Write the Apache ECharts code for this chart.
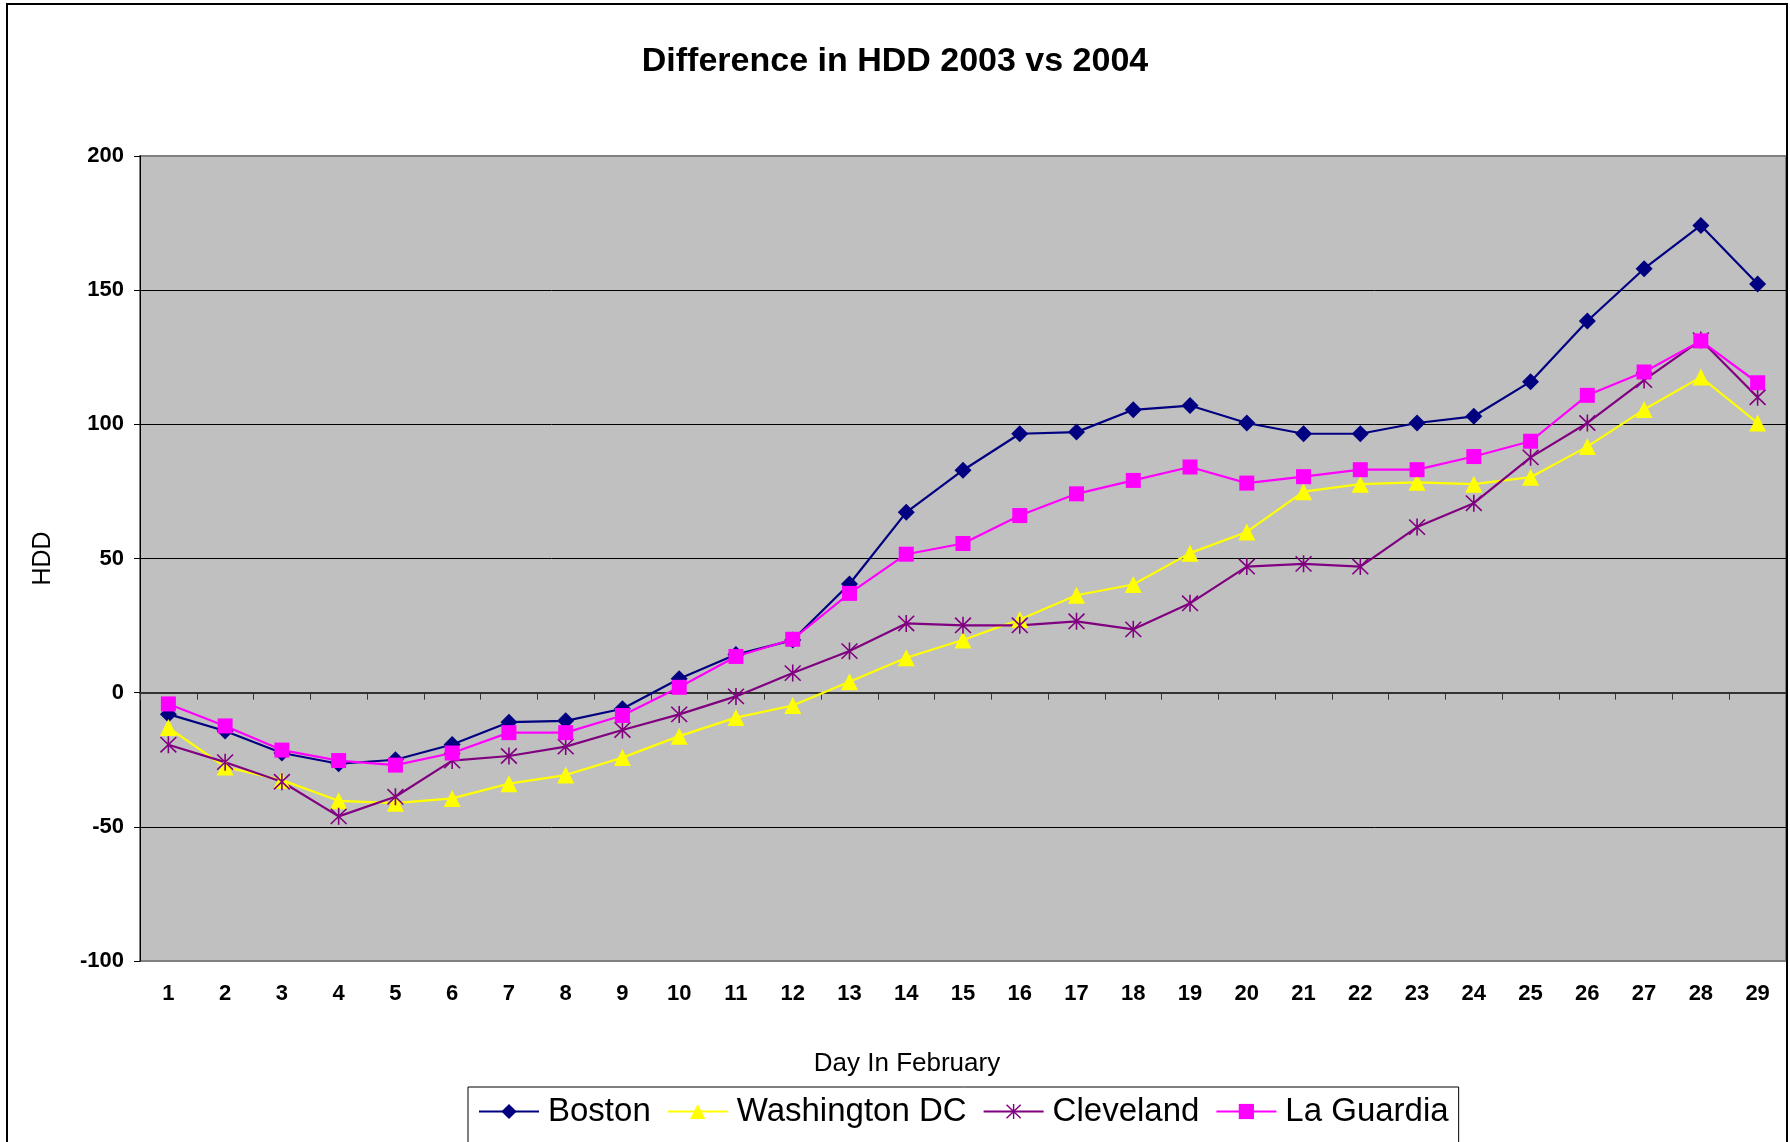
<!DOCTYPE html>
<html>
<head>
<meta charset="utf-8">
<title>Difference in HDD 2003 vs 2004</title>
<script src="https://cdn.jsdelivr.net/npm/echarts@6/dist/echarts.min.js"></script>
<style>
  html, body { margin: 0; padding: 0; background: #fff; }
  #chart { width: 1790px; height: 1142px; }
</style>
</head>
<body>
<div id="chart"></div>
<script>
// days of February (x categories)
var days = ['1','2','3','4','5','6','7','8','9','10','11','12','13','14','15',
            '16','17','18','19','20','21','22','23','24','25','26','27','28','29'];

// HDD difference 2003 vs 2004
var boston = [-8, -14.3, -22.5, -26.5, -25, -19.3, -11, -10.5, -6, 5.2, 14.2, 19.6, 40.5, 67.2, 82.9,
              96.5, 97.1, 105.4, 107, 100.5, 96.5, 96.5, 100.5, 103, 115.9, 138.5, 158, 174.1, 152.3];
var washington = [-13, -27.7, -32.6, -40.3, -41.2, -39.4, -33.9, -30.7, -24.2, -16.2, -9.3, -4.8, 4.1, 13, 19.6,
                  27.3, 36.3, 40.3, 52, 59.9, 74.9, 77.7, 78.4, 77.7, 80.3, 91.7, 105.5, 117.6, 100.5];
var cleveland = [-19.4, -25.9, -33.2, -46.1, -38.8, -25.3, -23.6, -20.1, -13.9, -8.1, -1.4, 7.3, 15.5, 25.8, 25.1,
                 25.1, 26.6, 23.6, 33.3, 47, 48, 47, 61.7, 70.6, 87.7, 100.5, 116.5, 131.4, 110.1];
var laGuardia = [-4.2, -12.4, -21.4, -25.3, -27, -22.5, -14.9, -14.9, -8.5, 2, 13.5, 19.9, 37, 51.6, 55.6,
                 66, 74.1, 79.1, 84.1, 78.1, 80.5, 83.1, 83.1, 88, 93.7, 110.8, 119.5, 131.1, 115.5];

var seriesNames = ['Boston', 'Washington DC', 'Cleveland', 'La Guardia'];
var yTicks = { min: -100, max: 200, interval: 50 };

var font = "'Liberation Sans', Arial, sans-serif";

// asterisk marker (X with a vertical bar), all parts same winding
var asterisk = 'path://M9.1,0L10.9,0L10.9,20L9.1,20Z' +
  'M1.64,0.36L19.64,18.36L18.36,19.64L0.36,1.64Z' +
  'M19.64,1.64L1.64,19.64L0.36,18.36L18.36,0.36Z';

function makeSeries(name, data, color, symbol, size) {
  return {
    name: name,
    type: 'line',
    data: data,
    symbol: symbol,
    symbolSize: size,
    showAllSymbol: true,
    lineStyle: { color: color, width: 2.2 },
    itemStyle: { color: color, borderWidth: 0 }
  };
}

var chart = echarts.init(document.getElementById('chart'));
var option = {
  animation: false,
  backgroundColor: '#fff',
  textStyle: { fontFamily: font },
  title: {
    text: 'Difference in HDD 2003 vs 2004',
    left: 'center',
    top: 40,
    textStyle: { fontFamily: font, fontSize: 34, fontWeight: 'bold', color: '#000' }
  },
  graphic: [{
    type: 'rect',
    silent: true,
    z: 100,
    shape: { x: 7, y: 4, width: 1780, height: 1200 },
    style: { fill: 'none', stroke: '#000', lineWidth: 2 }
  }],
  legend: {
    data: seriesNames,
    left: 468,
    top: 1087,
    orient: 'horizontal',
    itemWidth: 60,
    itemHeight: 19,
    itemGap: 16,
    padding: [8, 10, 30, 10],
    borderColor: '#000',
    borderWidth: 1,
    textStyle: { fontFamily: font, fontSize: 33, color: '#000', padding: [0, 0, 0, 4] }
  },
  grid: {
    left: 140,
    right: 4,
    top: 156,
    bottom: 181,
    show: true,
    backgroundColor: '#C0C0C0',
    borderColor: '#808080',
    borderWidth: 2,
    outerBoundsMode: 'none'
  },
  xAxis: [{
    type: 'category',
    data: days,
    position: 'bottom',
    boundaryGap: true,
    axisLine: { show: false, onZero: false },
    axisTick: { show: false },
    axisLabel: { margin: 22, fontFamily: font, fontSize: 22, fontWeight: 'bold', color: '#000' },
    name: 'Day In February',
    nameLocation: 'middle',
    nameGap: 90,
    nameTextStyle: { fontFamily: font, fontSize: 26, color: '#000', padding: [0, 112, 0, 0] }
  }, {
    type: 'category',
    data: days,
    position: 'bottom',
    boundaryGap: true,
    axisLine: { show: true, onZero: true, lineStyle: { color: '#333', width: 2 } },
    axisTick: { show: true, length: 7, lineStyle: { color: '#333', width: 1 } },
    axisLabel: { show: false }
  }],
  yAxis: {
    type: 'value',
    min: yTicks.min,
    max: yTicks.max,
    interval: yTicks.interval,
    axisLine: { show: true, lineStyle: { color: '#000', width: 1 } },
    axisTick: { show: true, length: 6, lineStyle: { color: '#000' } },
    axisLabel: { margin: 16, fontFamily: font, fontSize: 22, fontWeight: 'bold', color: '#000' },
    splitLine: { show: true, showMinLine: false, showMaxLine: false, lineStyle: { color: '#000', width: 1 } },
    name: 'HDD',
    nameLocation: 'middle',
    nameGap: 84,
    nameTextStyle: { fontFamily: font, fontSize: 25, color: '#000' }
  },
  series: [
    makeSeries('Boston', boston, '#000080', 'diamond', 17),
    makeSeries('Washington DC', washington, '#FFFF00', 'triangle', 17),
    makeSeries('Cleveland', cleveland, '#800080', asterisk, 17),
    makeSeries('La Guardia', laGuardia, '#FF00FF', 'rect', 15)
  ]
};
chart.setOption(option);
</script>
</body>
</html>
